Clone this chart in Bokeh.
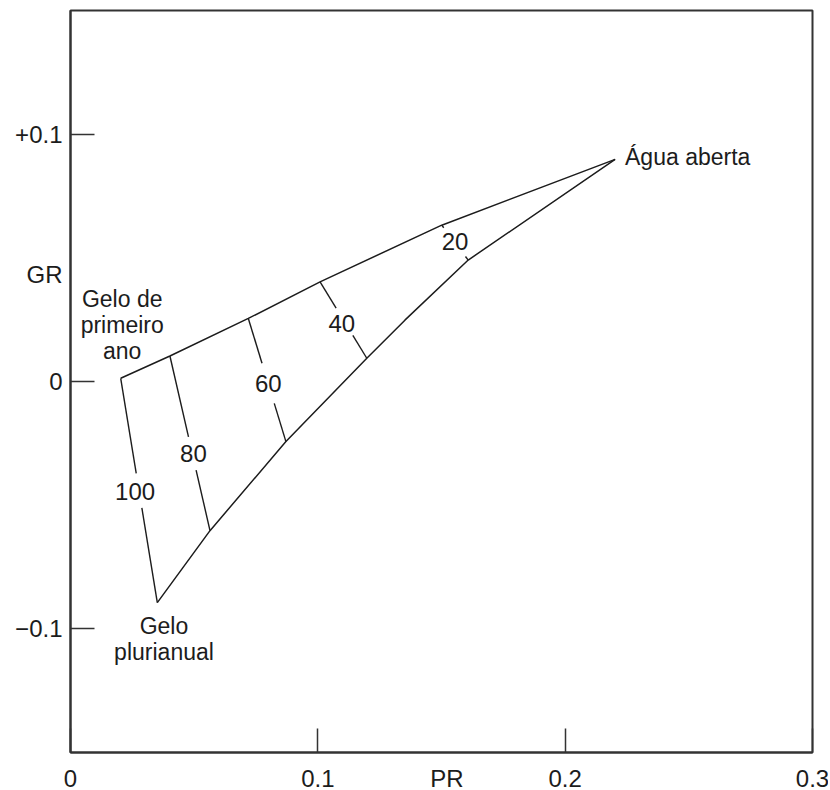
import math
from bokeh.plotting import figure
from bokeh.models import Range1d, FixedTicker, LinearAxis
from bokeh.embed import file_html
from bokeh.resources import INLINE
from bokeh.core.properties import value

# ---- data (PR, GR) ----
x_ticks = [0, 0.1, 0.2, 0.3]
x_tick_labels = ["0", "0.1", "0.2", "0.3"]
y_ticks = [-0.1, 0, 0.1]
y_tick_labels = ["\u22120.1", "0", "+0.1"]
x_title, x_title_pos = "PR", 0.1522
y_title, y_title_pos = "GR", 0.0434

# upper edge: first-year ice -> open water
top_pr = [0.0203, 0.0402, 0.0719, 0.1009, 0.1501, 0.2202]
top_gr = [0.0013, 0.0103, 0.0255, 0.0403, 0.0632, 0.0898]
# lower edge: multiyear ice -> open water
bot_pr = [0.0351, 0.0564, 0.0871, 0.1198, 0.1352, 0.1608, 0.2202]
bot_gr = [-0.0894, -0.0603, -0.0243, 0.0094, 0.0248, 0.0491, 0.0898]

# concentration isolines
conc = ["100", "80", "60", "40", "20"]
iso_top_pr = [0.0203, 0.0402, 0.0719, 0.1009, 0.1501]
iso_top_gr = [0.0013, 0.0103, 0.0255, 0.0403, 0.0632]
iso_bot_pr = [0.0351, 0.0564, 0.0871, 0.1198, 0.1608]
iso_bot_gr = [-0.0894, -0.0603, -0.0243, 0.0094, 0.0491]
iso_lab_pr = [0.0261, 0.0497, 0.0800, 0.1097, 0.1555]
iso_lab_gr = [-0.0444, -0.0290, -0.0007, 0.0235, 0.0565]

# surface type names
names = ["Gelo de\nprimeiro\nano", "Gelo\nplurianual", "\u00c1gua aberta"]
names_pr = [0.0209, 0.0378, 0.2242]
names_gr = [0.0228, -0.1040, 0.0907]

# ---- styles ----
FONT = "Liberation Sans"
INK = "#1c1c1c"
FRAME = "#333333"
gap_half_px = [17.5, 17, 21, 16, 18]
name_align = ["center", "center", "left"]

FW = FH = 742
p = figure(frame_width=FW, frame_height=FH, x_range=Range1d(0, 0.3), y_range=Range1d(-0.15, 0.15),
           output_backend="svg", toolbar_location=None, min_border_left=70, min_border_top=10,
           min_border_right=16, min_border_bottom=30)
p.grid.visible = False
p.outline_line_color = FRAME
p.outline_line_width = 2
p.background_fill_color = "white"
p.border_fill_color = "white"

# axes at the frame: lines and inward ticks only (their own labels are not drawn)
for ax, ticks in ((p.xaxis[0], x_ticks), (p.yaxis[0], y_ticks)):
    ax.ticker = FixedTicker(ticks=ticks)
    ax.axis_line_color = FRAME
    ax.axis_line_width = 2
    ax.major_tick_in = 24
    ax.major_tick_out = 0
    ax.minor_tick_line_color = None
    ax.major_tick_line_color = FRAME
    ax.major_tick_line_width = 1.5
    ax.major_label_text_font_size = "0px"
    ax.major_label_text_color = None
    ax.major_label_standoff = 0

# label-only axes carrying tick labels and the axis titles
xlab = LinearAxis(ticker=FixedTicker(ticks=x_ticks + [x_title_pos]),
                  major_label_overrides={**{t: l for t, l in zip(x_ticks, x_tick_labels)}, x_title_pos: x_title},
                  major_label_standoff=12)
ylab = LinearAxis(ticker=FixedTicker(ticks=y_ticks + [y_title_pos]),
                  major_label_overrides={**{t: l for t, l in zip(y_ticks, y_tick_labels)}, y_title_pos: y_title},
                  major_label_standoff=8)
for ax in (xlab, ylab):
    ax.axis_line_color = None
    ax.major_tick_line_color = None
    ax.minor_tick_line_color = None
    ax.major_tick_in = 0
    ax.major_tick_out = 0
    ax.major_label_text_font = FONT
    ax.major_label_text_font_size = "24px"
    ax.major_label_text_color = INK
p.add_layout(xlab, "below")
p.add_layout(ylab, "left")

# edges of the triangle
p.line(top_pr, top_gr, line_color=INK, line_width=1.5)
p.line(bot_pr, bot_gr, line_color=INK, line_width=1.5)

# isolines with a gap around their label
S = FW / 0.3
xs, ys = [], []
for i in range(len(conc)):
    x0, y0, x1, y1 = iso_top_pr[i], iso_top_gr[i], iso_bot_pr[i], iso_bot_gr[i]
    xl, yl = iso_lab_pr[i], iso_lab_gr[i]
    dx, dy = (x1 - x0) * S, (y1 - y0) * S
    L = math.hypot(dx, dy)
    t = ((xl - x0) * S * dx + (yl - y0) * S * dy) / L ** 2
    g = gap_half_px[i] / L
    ta, tb = max(t - g, 0), min(t + g, 1)
    xs.append([x0, x0 + ta * (x1 - x0)]); ys.append([y0, y0 + ta * (y1 - y0)])
    xs.append([x0 + tb * (x1 - x0), x1]); ys.append([y0 + tb * (y1 - y0), y1])
p.multi_line(xs, ys, line_color=INK, line_width=1.4)

p.text(iso_lab_pr, iso_lab_gr, text=conc, text_font=value(FONT), text_font_size="24px",
       text_color=INK, text_align="center", text_baseline="middle")

for n, x, y, a in zip(names, names_pr, names_gr, name_align):
    p.text([x], [y], text=[n], text_font=value(FONT), text_font_size="23px", text_color=INK,
           text_align=a, text_baseline="middle", text_line_height=1.0)

open("out.html", "w").write(file_html(p, INLINE))
